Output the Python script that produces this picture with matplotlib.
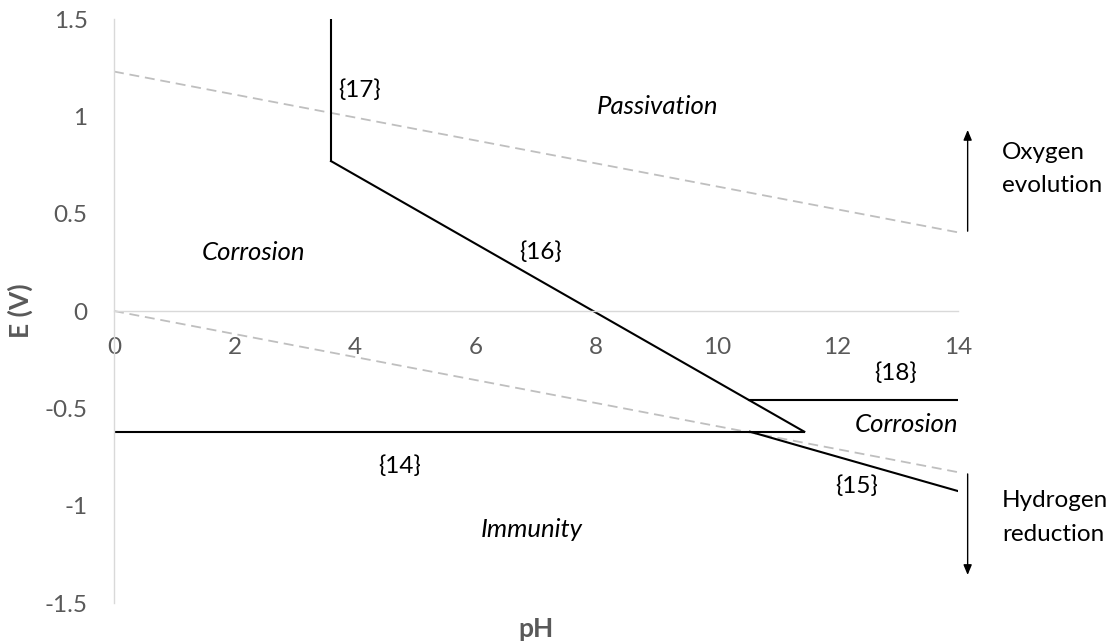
import matplotlib
matplotlib.use("Agg")
import matplotlib.pyplot as plt

# Water stability lines (dashed)
ph_range = [0, 14]
oxygen_line = [1.23, 0.404]
hydrogen_line = [0.0, -0.828]

# Equilibrium boundaries
eq17_ph = [3.6, 3.6]
eq17_e = [1.5, 0.77]
eq16_ph = [3.6, 11.45]
eq16_e = [0.77, -0.62]
eq14_ph = [0, 11.45]
eq14_e = [-0.62, -0.62]
eq18_ph = [10.53, 14]
eq18_e = [-0.455, -0.455]
eq15_ph = [10.55, 11.45, 14]
eq15_e = [-0.62, -0.70, -0.925]

x_ticks = [0, 2, 4, 6, 8, 10, 12, 14]
y_ticks = [-1.5, -1, -0.5, 0, 0.5, 1, 1.5]
y_tick_labels = ["-1.5", "-1", "-0.5", "0", "0.5", "1", "1.5"]

FONT = "Lato"
TICK_COLOR = "#595959"
AXIS_COLOR = "#d9d9d9"

plt.rcParams["font.family"] = [FONT, "DejaVu Sans"]

fig = plt.figure(figsize=(11.13, 6.43), dpi=100)
ax = fig.add_axes([114 / 1113, 40 / 643, 844 / 1113, 584 / 643])

ax.plot(ph_range, oxygen_line, color="#bfbfbf", lw=1.3, dashes=(5.5, 3.2))
ax.plot(ph_range, hydrogen_line, color="#bfbfbf", lw=1.3, dashes=(5.5, 3.2))

for xs, ys in [(eq17_ph, eq17_e), (eq16_ph, eq16_e), (eq14_ph, eq14_e),
               (eq18_ph, eq18_e), (eq15_ph, eq15_e)]:
    ax.plot(xs, ys, color="black", lw=1.5, solid_joinstyle="miter")

ax.set_xlim(0, 14)
ax.set_ylim(-1.5, 1.5)

for s in ["top", "right"]:
    ax.spines[s].set_visible(False)
ax.spines["bottom"].set_position(("data", 0))
ax.spines["bottom"].set_color(AXIS_COLOR)
ax.spines["left"].set_color(AXIS_COLOR)
ax.spines["bottom"].set_linewidth(1.0)
ax.spines["left"].set_linewidth(1.0)

ax.set_xticks(x_ticks)
ax.set_xticklabels([str(v) for v in x_ticks])
ax.set_yticks(y_ticks)
ax.set_yticklabels(y_tick_labels)
ax.tick_params(axis="both", length=0, labelsize=17.5, labelcolor=TICK_COLOR)
ax.tick_params(axis="x", pad=19)
ax.tick_params(axis="y", pad=19)

ax.set_xlabel("pH", fontsize=19, fontweight="bold", color=TICK_COLOR, va="center")
ax.xaxis.set_label_coords(0.5, -0.0445)
ax.set_ylabel("E (V)", fontsize=19, fontweight="bold", color=TICK_COLOR, va="center")
ax.yaxis.set_label_coords(-0.1114, 0.5)

label_kw = dict(fontsize=17.5, color="black")
ital_kw = dict(fontsize=18.5, color="black", style="italic")
ax.text(3.72, 1.135, "{17}", ha="left", va="center", **label_kw)
ax.text(9.02, 1.053, "Passivation", ha="center", va="center", **ital_kw)
ax.text(2.31, 0.298, "Corrosion", ha="center", va="center", **ital_kw)
ax.text(7.08, 0.303, "{16}", ha="center", va="center", **label_kw)
ax.text(12.97, -0.318, "{18}", ha="center", va="center", **label_kw)
ax.text(14.0, -0.585, "Corrosion", ha="right", va="center", **ital_kw)
ax.text(4.73, -0.796, "{14}", ha="center", va="center", **label_kw)
ax.text(12.32, -0.899, "{15}", ha="center", va="center", **label_kw)
ax.text(6.93, -1.12, "Immunity", ha="center", va="center", **ital_kw)

# Notes on the water reactions, right of the plot
side_kw = dict(ha="left", va="baseline", clip_on=False, **label_kw)
ax.text(14.73, 0.781, "Oxygen", **side_kw)
ax.text(14.73, 0.611, "evolution", **side_kw)
ax.text(14.73, -1.007, "Hydrogen", **side_kw)
ax.text(14.73, -1.181, "reduction", **side_kw)

arrow_kw = dict(arrowstyle="-|>,head_length=0.6,head_width=0.25", color="black", lw=1.0,
                shrinkA=0, shrinkB=0)
ax.annotate("", xy=(14.16, 0.93), xytext=(14.16, 0.41),
            arrowprops=arrow_kw, annotation_clip=False)
ax.annotate("", xy=(14.16, -1.356), xytext=(14.16, -0.837),
            arrowprops=arrow_kw, annotation_clip=False)

fig.savefig("out.png", dpi=100)
